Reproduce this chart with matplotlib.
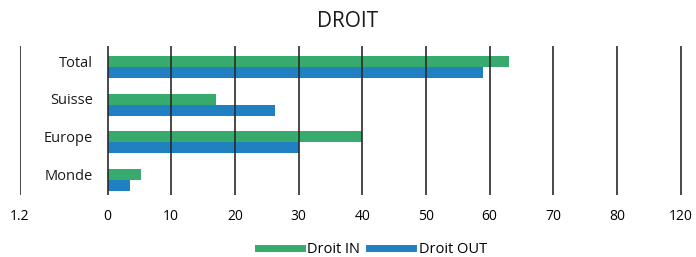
import matplotlib
matplotlib.use("Agg")
import matplotlib.pyplot as plt
import numpy as np
from matplotlib.lines import Line2D

categories = ["Total", "Suisse", "Europe", "Monde"]
droit_in = [63, 17, 40, 5.2]
droit_out = [59, 26.3, 30, 3.6]
tick_positions = [-13.75, 0, 10, 20, 30, 40, 50, 60, 70, 80, 90]
tick_labels = ["1.2", "0", "10", "20", "30", "40", "50", "60", "70", "80", "120"]

plt.rcParams['font.family'] = ['Open Sans', 'DejaVu Sans']

fig = plt.figure(figsize=(6.96, 2.57), dpi=100)
ax = fig.add_axes([20/696, 62/257, 662/696, 149/257])

green = "#37AB6E"
blue = "#2081C2"
y = np.arange(len(categories))
h = 0.29
ax.barh(y - h/2, droit_in, height=h, color=green, label="Droit IN", zorder=1)
ax.barh(y + h/2, droit_out, height=h, color=blue, label="Droit OUT", zorder=1)

for xv in tick_positions:
    ax.axvline(xv, color="#2a2a2a", lw=1.2, zorder=2)

ax.set_xlim(-13.75, 90.2)
ax.set_ylim(3.4, -0.56)
ax.set_xticks(tick_positions)
ax.set_xticklabels(tick_labels, fontsize=10)
ax.tick_params(axis='x', length=0, pad=10)
ax.set_yticks([])
for s in ax.spines.values():
    s.set_visible(False)

for yi, c in zip(y, categories):
    ax.text(-2.3, yi - 0.1, c, ha='right', va='center', fontsize=10.5, color="#1a1a1a")

fig.text(0.5, 0.915, "DROIT", ha='center', va='center', fontsize=15, color="#1a1a1a")

handles = [Line2D([0], [0], color=green, lw=5), Line2D([0], [0], color=blue, lw=5)]
fig.legend(handles, ["Droit IN", "Droit OUT"], loc='center', bbox_to_anchor=(0.535, 0.03),
           ncol=2, frameon=False, fontsize=10.5, handlelength=3.0, columnspacing=0.6,
           handletextpad=0.4)

fig.savefig("out.png", dpi=100)
